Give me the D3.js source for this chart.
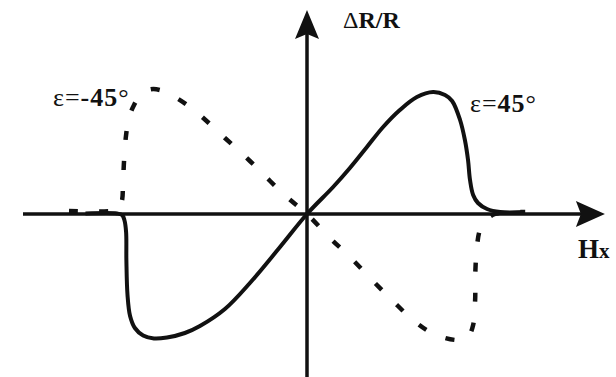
<!DOCTYPE html>
<html>
<head>
<meta charset="utf-8">
<script src="https://cdn.jsdelivr.net/npm/d3@7"></script>
<style>
  html, body { margin: 0; padding: 0; background: #fff; }
  svg { display: block; }
  text { font-family: "Liberation Serif", "DejaVu Serif", serif; fill: #111; }
</style>
</head>
<body>
<svg id="chart" width="616" height="377"></svg>
<script>
// Magnetoresistance ΔR/R versus field Hx, normalised units
// Solid curve: ε = 45°
const h45 = [-0.780, -0.669, -0.651, -0.643, -0.637, -0.636, -0.632, -0.623, -0.606, -0.577, -0.539, -0.493, -0.430, -0.377, -0.289, -0.201, -0.095, 0.000,
             0.092, 0.151, 0.211, 0.268, 0.327, 0.387, 0.444, 0.486, 0.511, 0.539, 0.556, 0.567, 0.574, 0.585, 0.602, 0.634, 0.680, 0.768];
const r45 = [0.004, 0.004, -0.008, -0.048, -0.144, -0.368, -0.648, -0.816, -0.912, -0.972, -0.996, -0.988, -0.952, -0.896, -0.760, -0.552, -0.264, 0.000,
             0.216, 0.368, 0.536, 0.696, 0.832, 0.936, 0.976, 0.952, 0.904, 0.752, 0.592, 0.432, 0.272, 0.152, 0.088, 0.040, 0.016, 0.016];

// Dashed curve: ε = -45°
const hm45 = [-0.838, -0.690, -0.662, -0.651, -0.648, -0.644, -0.637, -0.627, -0.609, -0.585, -0.553, -0.518, -0.465, -0.394, -0.289, -0.201, -0.130, -0.067, 0.000,
              0.081, 0.155, 0.229, 0.299, 0.373, 0.433, 0.486, 0.539, 0.567, 0.585, 0.592, 0.593, 0.599, 0.609, 0.630, 0.662, 0.715, 0.768];
const rm45 = [0.024, 0.024, 0.040, 0.112, 0.232, 0.432, 0.632, 0.768, 0.872, 0.952, 0.996, 0.992, 0.936, 0.824, 0.608, 0.424, 0.264, 0.128, 0.000,
              -0.192, -0.352, -0.528, -0.688, -0.848, -0.944, -0.992, -1.008, -0.984, -0.888, -0.688, -0.448, -0.248, -0.128, -0.048, 0.000, 0.016, 0.016];

const seriesLabels = ["ε=45°", "ε=-45°"];

const svg = d3.select("#chart");

const x = d3.scaleLinear().domain([-1, 1]).range([23, 591]);
const y = d3.scaleLinear().domain([-1, 1]).range([339, 89]);

// axis extents in data units
const xMin = -1, xTip = 1.049;
const yMin = -1.32, yTip = 1.632;

const ink = "#111";

// Horizontal axis with arrow head
svg.append("line")
  .attr("x1", x(xMin)).attr("x2", x(xTip) - 20)
  .attr("y1", y(0)).attr("y2", y(0))
  .attr("stroke", ink).attr("stroke-width", 3.5);
svg.append("path")
  .attr("d", `M${x(xTip)},${y(0)} L${x(xTip) - 29},${y(0) - 13} L${x(xTip) - 24},${y(0)} L${x(xTip) - 29},${y(0) + 13} Z`)
  .attr("fill", ink);

// Vertical axis with arrow head
svg.append("line")
  .attr("x1", x(0)).attr("x2", x(0))
  .attr("y1", y(yMin)).attr("y2", y(yTip) + 20)
  .attr("stroke", ink).attr("stroke-width", 3.5);
svg.append("path")
  .attr("d", `M${x(0)},${y(yTip)} L${x(0) - 12},${y(yTip) + 29} L${x(0)},${y(yTip) + 24} L${x(0) + 12},${y(yTip) + 29} Z`)
  .attr("fill", ink);

const line = d3.line()
  .x(d => x(d[0]))
  .y(d => y(d[1]))
  .curve(d3.curveCatmullRom.alpha(0.5));

svg.append("path")
  .datum(d3.zip(h45, r45))
  .attr("d", line)
  .attr("fill", "none")
  .attr("stroke", ink)
  .attr("stroke-width", 4)
  .attr("stroke-linejoin", "round");

svg.append("path")
  .datum(d3.zip(hm45, rm45))
  .attr("d", line)
  .attr("fill", "none")
  .attr("stroke", ink)
  .attr("stroke-width", 4.5)
  .attr("stroke-dasharray", "9,21");

// Axis titles
const yTitle = svg.append("text").attr("x", 343).attr("y", 28).attr("font-size", 24);
yTitle.append("tspan").text("Δ");
yTitle.append("tspan").attr("font-weight", "bold").text("R/R");

const xTitle = svg.append("text").attr("x", 578).attr("y", 258).attr("font-weight", "bold");
xTitle.append("tspan").attr("font-size", 27).text("H");
xTitle.append("tspan").attr("font-size", 21).text("x");

// Curve labels
function curveLabel(px, py, label) {
  const m = label.match(/^(ε=)(-?\d+)(°)$/);
  const t = svg.append("text").attr("x", px).attr("y", py)
    .attr("font-size", 26).attr("letter-spacing", 1);
  t.append("tspan").text(m[1]);
  t.append("tspan").attr("font-weight", "bold").text(m[2]);
  t.append("tspan").text(m[3]);
}
curveLabel(53, 106, seriesLabels[1]);
curveLabel(470, 112, seriesLabels[0]);
</script>
</body>
</html>
